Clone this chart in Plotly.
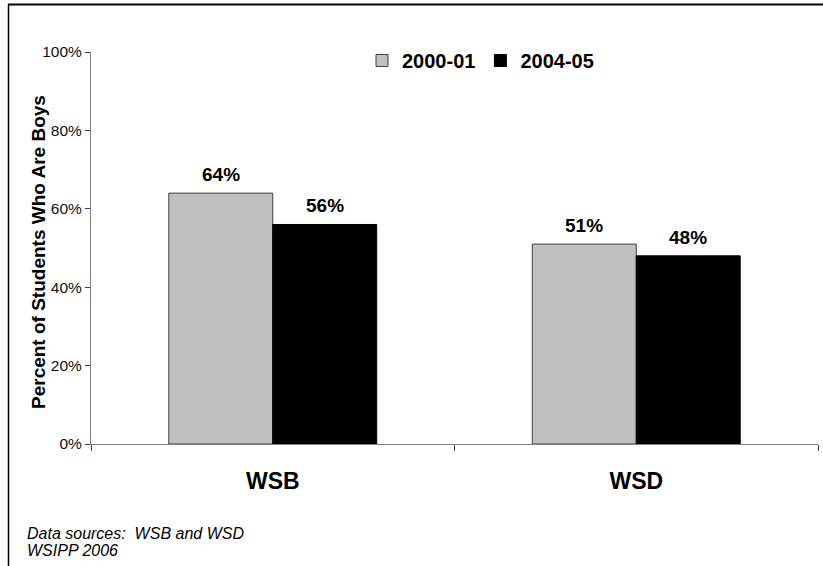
import plotly.graph_objects as go

categories = ["WSB", "WSD"]
series_names = ["2000-01", "2004-05"]
values_2000 = [64, 51]
values_2004 = [56, 48]
y_ticks = [0, 20, 40, 60, 80, 100]
y_tick_labels = ["0%", "20%", "40%", "60%", "80%", "100%"]
source_lines = ["Data sources:  WSB and WSD", "WSIPP 2006"]

FONT = "Liberation Sans, Arial, sans-serif"

# plot area in pixels
L, T, W, H = 91, 52, 727, 392


def px_x(p):
    return (p - L) / W


def px_y(p):
    return (T + H - p) / H


fig = go.Figure()
fig.add_trace(go.Bar(
    name=series_names[0], x=categories, y=values_2000,
    marker=dict(color="#C0C0C0", line=dict(color="#404040", width=1)),
))
fig.add_trace(go.Bar(
    name=series_names[1], x=categories, y=values_2004,
    marker=dict(color="#000000", line=dict(color="#000000", width=1)),
))

# value labels above each bar
bar_px = W / len(categories) * (1 - 0.428) / 2
for vals, shift in ((values_2000, -bar_px / 2), (values_2004, bar_px / 2)):
    for cat, v in zip(categories, vals):
        fig.add_annotation(
            x=cat, y=v, xshift=shift, yshift=6, yanchor="bottom",
            text=f"<b>{v}%</b>", showarrow=False,
            font=dict(family=FONT, size=19, color="#000"),
        )

fig.update_layout(
    width=823, height=566,
    margin=dict(l=L, r=823 - L - W, t=T, b=566 - T - H),
    paper_bgcolor="white", plot_bgcolor="white",
    font=dict(family=FONT, color="#000"),
    barmode="group", bargap=0.428, bargroupgap=0,
    showlegend=True,
    legend=dict(
        orientation="h", x=px_x(362), y=px_y(41), xanchor="left", yanchor="top",
        font=dict(family=FONT, size=20, color="#000", weight="bold"),
        bgcolor="rgba(0,0,0,0)", itemwidth=30, tracegroupgap=0,
    ),
    xaxis=dict(
        showline=True, linecolor="#808080", linewidth=1,
        ticks="outside", tickson="boundaries", ticklen=6, tickcolor="#404040",
        tickfont=dict(family=FONT, size=23, color="#000", weight="bold"),
        ticklabelstandoff=16, showgrid=False, fixedrange=True,
    ),
    yaxis=dict(
        range=[0, 100], tickvals=y_ticks, ticktext=y_tick_labels,
        showline=True, linecolor="#808080", linewidth=1,
        ticks="outside", ticklen=5, tickcolor="#404040",
        tickfont=dict(family=FONT, size=15.5, color="#111"),
        showgrid=False, zeroline=False, fixedrange=True,
    ),
)

# y-axis title
fig.add_annotation(
    xref="paper", yref="paper", x=px_x(38), y=px_y(252),
    xanchor="center", yanchor="middle", textangle=-90,
    text="<b>Percent of Students Who Are Boys</b>", showarrow=False,
    font=dict(family=FONT, size=19, color="#000"),
)

# Frame along the top and left edges of the page
fig.add_shape(type="line", xref="paper", yref="paper",
              x0=px_x(8), x1=px_x(830), y0=px_y(4.5), y1=px_y(4.5),
              line=dict(color="#000", width=2))
fig.add_shape(type="line", xref="paper", yref="paper",
              x0=px_x(8.5), x1=px_x(8.5), y0=px_y(4.5), y1=px_y(575),
              line=dict(color="#000", width=1.5))

# Source note
for i, line in enumerate(source_lines):
    fig.add_annotation(
        xref="paper", yref="paper",
        x=px_x(25), y=px_y(533 + 17.5 * i), xanchor="left", yanchor="middle",
        text=f"<i>{line}</i>", showarrow=False, align="left",
        font=dict(family=FONT, size=16, color="#000"),
    )

fig.write_html("out.html")
